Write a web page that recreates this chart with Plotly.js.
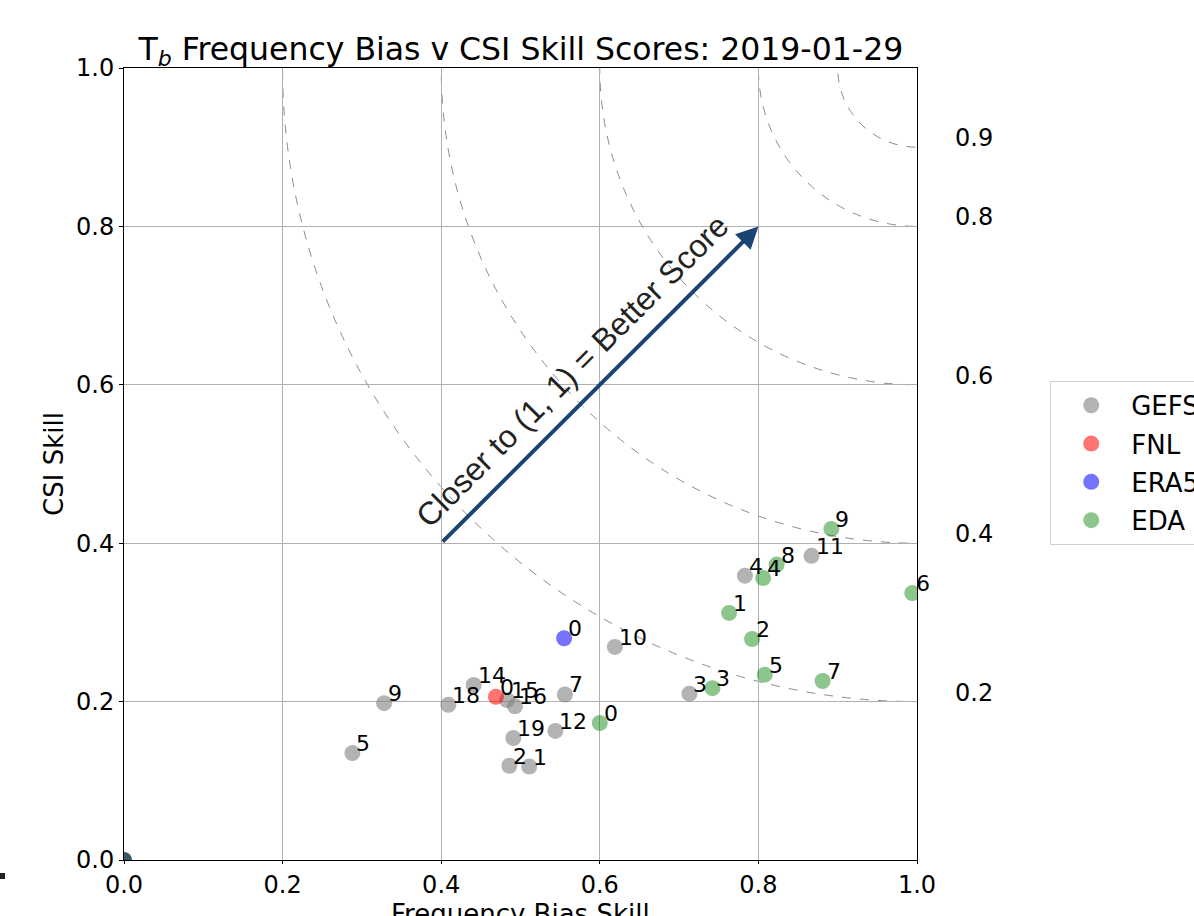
<!DOCTYPE html>
<html>
<head>
<meta charset="utf-8">
<script src="https://cdn.plot.ly/plotly-3.0.1.min.js"></script>
<style>html,body{margin:0;padding:0;background:#fff;}#chart{width:1194px;height:916px;}</style>
</head>
<body>
<div id="chart"></div>
<script>
// ---- data ----
const gefsLabels = ["5","9","18","14","15","16","7","12","19","2","1","10","3","4","11"];
const gefsX = [0.288,0.328,0.409,0.441,0.483,0.493,0.556,0.544,0.491,0.486,0.511,0.619,0.713,0.783,0.867];
const gefsY = [0.135,0.198,0.196,0.221,0.202,0.194,0.209,0.163,0.154,0.119,0.118,0.269,0.210,0.359,0.384];

const fnlLabels = ["0"];
const fnlX = [0.469];
const fnlY = [0.206];

const era5Labels = ["0"];
const era5X = [0.555];
const era5Y = [0.280];

const edaLabels = ["0","3","5","7","2","1","4","8","9","6"];
const edaX = [0.600,0.742,0.808,0.881,0.792,0.763,0.806,0.823,0.892,0.994];
const edaY = [0.173,0.217,0.234,0.226,0.279,0.312,0.356,0.373,0.418,0.337];

const zeroX = [0];
const zeroY = [0];

const ringRadii = [0.1,0.2,0.4,0.6,0.8];
const ringLabels = ["0.9","0.8","0.6","0.4","0.2"];

const arrowStart = [0.4,0.4];
const arrowEnd = [0.8,0.8];

// ---- traces ----
const FONT = "DejaVu Sans, sans-serif";
function markerTrace(name, x, y, color, group) {
  return {type:"scatter", mode:"markers", name:name, x:x, y:y, legendgroup:group,
    marker:{size:16, color:color}, hoverinfo:"skip"};
}
const traces = [
  {type:"scatter", mode:"markers", x:zeroX, y:zeroY, showlegend:false, marker:{size:16, color:"#3b5864"}, hoverinfo:"skip"},
  markerTrace("GEFS", gefsX, gefsY, "rgba(128,128,128,0.6)", "g1"),
  markerTrace("FNL", fnlX, fnlY, "rgba(255,0,0,0.55)", "g2"),
  markerTrace("ERA5", era5X, era5Y, "rgba(0,0,255,0.55)", "g3"),
  markerTrace("EDA", edaX, edaY, "rgba(0,128,0,0.45)", "g4")
];

const shapes = ringRadii.map(r => ({type:"circle", xref:"x", yref:"y", x0:1-r, x1:1+r, y0:1-r, y1:1+r,
  line:{color:"#8c8c8c", width:1, dash:"dash"}, layer:"below"}));
shapes.push({type:"rect", xref:"paper", yref:"paper", x0:-0.1564, x1:-0.150, y0:-0.024, y1:-0.0164,
  fillcolor:"#222", line:{width:0}});

const annotations = [];
function addLabels(xs, ys, labels) {
  labels.forEach((t,i) => annotations.push({x:xs[i], y:ys[i], xref:"x", yref:"y", text:t, showarrow:false,
    xanchor:"left", yanchor:"bottom", xshift:2, yshift:-5, font:{family:FONT, size:22, color:"#000"}}));
}
addLabels(gefsX, gefsY, gefsLabels);
addLabels(fnlX, fnlY, fnlLabels);
addLabels(era5X, era5Y, era5Labels);
addLabels(edaX, edaY, edaLabels);

ringLabels.forEach((t,i) => annotations.push({x:1.046, y:1-ringRadii[i], xref:"paper", yref:"y", text:t, showarrow:false,
  xanchor:"left", yanchor:"bottom", yshift:-7, font:{family:FONT, size:24, color:"#000"}}));
annotations.push({x:arrowEnd[0], y:arrowEnd[1], ax:arrowStart[0], ay:arrowStart[1], xref:"x", yref:"y", axref:"x", ayref:"y",
  showarrow:true, arrowhead:2, arrowsize:1.1, arrowwidth:4, arrowcolor:"#1c4473", text:""});
annotations.push({x:0.565, y:0.618, xref:"x", yref:"y", text:"Closer to (1, 1) = Better Score", showarrow:false,
  textangle:-45, font:{family:"Liberation Sans, Arial, sans-serif", size:32, color:"#222"}});
// x-axis title (placed so it is cut by the page edge as in the reference)
annotations.push({x:0.5, y:-0.047, xref:"paper", yref:"paper", text:"Frequency Bias Skill", showarrow:false,
  xanchor:"center", yanchor:"top", font:{family:FONT, size:26, color:"#000"}});

const axisCommon = {range:[0,1], dtick:0.2, tickformat:".1f", showgrid:true, gridcolor:"#b0b0b0", gridwidth:1,
  showline:true, linecolor:"#000", linewidth:1, mirror:true, ticks:"outside", ticklen:4, tickcolor:"#000",
  zeroline:false, tickfont:{family:FONT, size:24, color:"#000"}, fixedrange:true};

const layout = {
  width:1194, height:916,
  margin:{l:124, r:277, t:68, b:56, autoexpand:false},
  paper_bgcolor:"#fff", plot_bgcolor:"#fff",
  title:{text:"T<sub><i>b</i></sub> Frequency Bias v CSI Skill Scores: 2019-01-29", x:0.4362, xanchor:"center",
    y:0.947, yanchor:"middle", font:{family:FONT, size:31.5, color:"#000"}},
  xaxis:Object.assign({}, axisCommon, {ticklen:3}),
  yaxis:Object.assign({}, axisCommon, {title:{text:"CSI Skill", standoff:4, font:{family:FONT, size:26, color:"#000"}}}),
  showlegend:true,
  legend:{x:1.168, xanchor:"left", y:0.605, yanchor:"top", bgcolor:"#fff", bordercolor:"#d0d0d0", borderwidth:1,
    font:{family:FONT, size:26, color:"#000"}, tracegroupgap:1.5, itemwidth:70},
  shapes:shapes,
  annotations:annotations
};

Plotly.newPlot("chart", traces, layout, {staticPlot:true, displayModeBar:false});
</script>
</body>
</html>
